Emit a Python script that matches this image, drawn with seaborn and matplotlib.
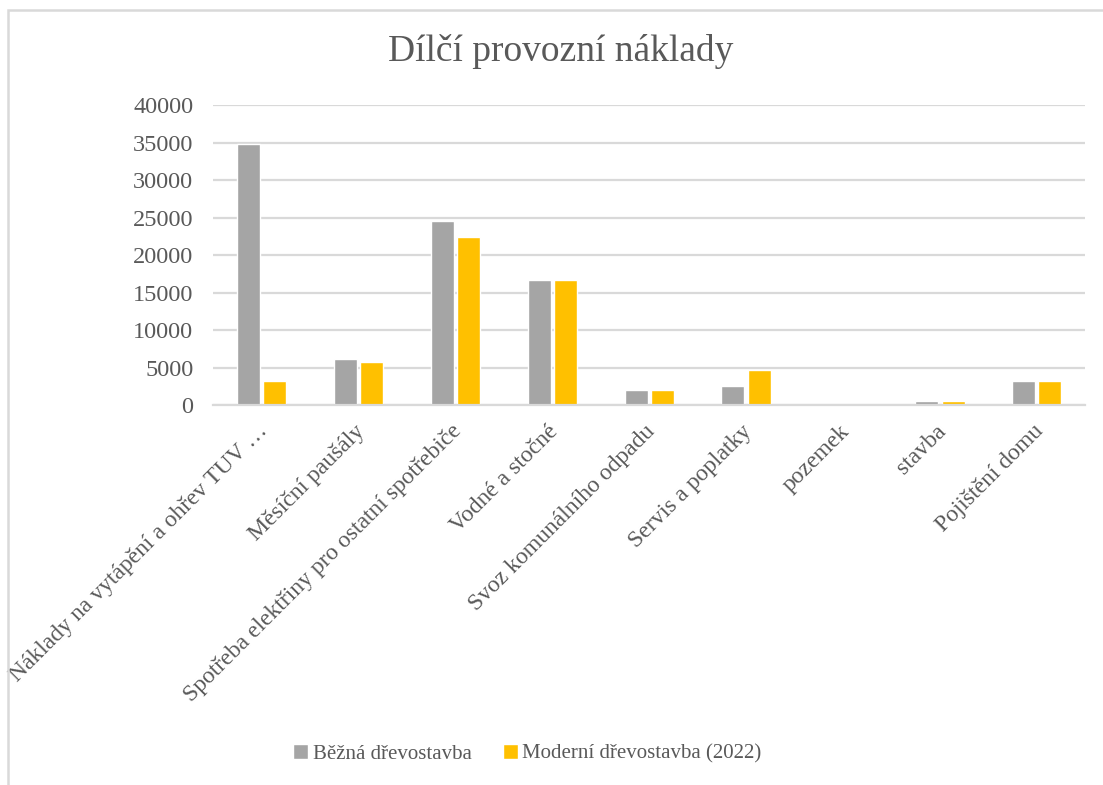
import matplotlib
matplotlib.use("Agg")
import matplotlib.pyplot as plt
from matplotlib.patches import Rectangle
import matplotlib.transforms as mtransforms
import pandas as pd
import seaborn as sns

categories = [
    "Náklady na vytápění a ohřev TUV …",
    "Měsíční paušály",
    "Spotřeba elektřiny pro ostatní spotřebiče",
    "Vodné a stočné",
    "Svoz komunálního odpadu",
    "Servis a poplatky",
    "pozemek",
    "stavba",
    "Pojištění domu",
]
series_names = ["Běžná dřevostavba", "Moderní dřevostavba (2022)"]
bezna = [34850, 6100, 24600, 16700, 2000, 2550, 0, 550, 3200]
moderni = [3150, 5800, 22450, 16700, 2000, 4700, 0, 550, 3200]
y_ticks = [0, 5000, 10000, 15000, 20000, 25000, 30000, 35000, 40000]

colors = ["#A5A5A5", "#FFC000"]
text_color = "#595959"
grid_color = "#D9D9D9"
serif = ["Liberation Serif", "DejaVu Serif"]

df = pd.DataFrame({
    "kategorie": categories * 2,
    "řada": [series_names[0]] * len(categories) + [series_names[1]] * len(categories),
    "hodnota": bezna + moderni,
})

sns.set_theme(style="white")
plt.rcParams["font.family"] = serif

fig = plt.figure(figsize=(11.03, 7.85), dpi=100)
ax = fig.add_axes([0.193, 0.484, 0.791, 0.382])

sns.barplot(
    data=df, x="kategorie", y="hodnota", hue="řada",
    order=categories, hue_order=series_names,
    palette=colors, width=0.54, gap=0.12, saturation=1,
    errorbar=None, ax=ax, legend=True,
)

ax.set_ylim(0, 40000)
ax.set_xlim(-0.5, len(categories) - 0.5)
ax.set_yticks(y_ticks)
ax.set_yticklabels([str(v) for v in y_ticks])
ax.yaxis.grid(True, color=grid_color, linewidth=1.6)
ax.set_axisbelow(True)
for side in ["top", "right", "left"]:
    ax.spines[side].set_visible(False)
ax.spines["bottom"].set_color(grid_color)
ax.spines["bottom"].set_linewidth(1.6)
ax.set_xlabel("")
ax.set_ylabel("")
ax.tick_params(axis="y", length=0, pad=14, labelsize=17.5, labelcolor=text_color)
ax.tick_params(axis="x", length=0, pad=8, labelsize=17, labelcolor=text_color)
shift = mtransforms.ScaledTranslation(3 / 100, -12 / 100, fig.dpi_scale_trans)
for lbl in ax.get_xticklabels():
    lbl.set_rotation(45)
    lbl.set_ha("right")
    lbl.set_va("center")
    lbl.set_rotation_mode("anchor")
    lbl.set_transform(lbl.get_transform() + shift)

leg = ax.legend(
    loc="center", ncol=2, frameon=False, fontsize=15,
    handlelength=0.75, handleheight=0.75, handletextpad=0.2, columnspacing=1.5,
)
for t in leg.get_texts():
    t.set_color(text_color)
    t.set_fontfamily("Liberation Serif")
    t.set_fontsize(15)
leg.set_bbox_to_anchor((0.478, 0.040), transform=fig.transFigure)

fig.text(0.508, 0.934, "Dílčí provozní náklady", ha="center", va="center",
         fontsize=27, color=text_color)

fig.patches.append(Rectangle((0.0075, -0.1), 1.2, 1.087, transform=fig.transFigure,
                             fill=False, edgecolor="#D9D9D9", linewidth=1.8))

fig.savefig("out.png", dpi=100, facecolor="white")
